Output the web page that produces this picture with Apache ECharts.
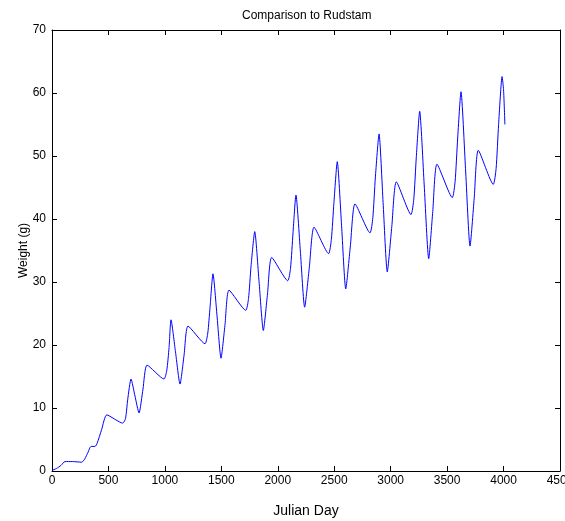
<!DOCTYPE html>
<html>
<head>
<meta charset="utf-8">
<script src="https://cdn.jsdelivr.net/npm/echarts@6/dist/echarts.min.js"></script>
<style>
html,body{margin:0;padding:0;background:#fff;}
#c{width:565px;height:521px;}
</style>
</head>
<body>
<div id="c"></div>
<script>
// Julian day (x) and weight in grams (y)
var days = [0, 40, 80, 115, 180, 263, 290, 320, 345, 381, 400, 440, 485, 626,
  651, 671, 700, 735, 771, 806, 842,
  992, 1017, 1037, 1054, 1094, 1134, 1170, 1205,
  1355, 1380, 1400, 1426, 1462, 1497, 1533, 1568,
  1716, 1741, 1763, 1796, 1834, 1872, 1909, 1946,
  2088, 2113, 2135, 2161, 2200, 2238, 2280, 2321,
  2450, 2475, 2497, 2527, 2565, 2602, 2643, 2684,
  2817, 2842, 2864, 2897, 2933, 2970, 3010, 3050,
  3180, 3205, 3227, 3257, 3297, 3337, 3373, 3410,
  3546, 3571, 3593, 3623, 3663, 3703, 3740, 3776,
  3909, 3934, 3956, 3987, 4000, 4012];
var weights = [0.1, 0.4, 0.9, 1.5, 1.5, 1.4, 1.9, 3.0, 3.9, 3.9, 4.4, 6.6, 8.9, 7.6,
  8.3, 11.4, 14.6, 11.9, 9.2, 13.0, 16.8,
  14.6, 16.0, 19.6, 24.0, 18.9, 13.8, 18.4, 23.0,
  20.2, 21.9, 26.0, 31.3, 24.6, 17.9, 23.3, 28.7,
  25.5, 27.4, 32.5, 38.0, 30.1, 22.3, 28.1, 33.9,
  30.2, 32.2, 37.8, 43.8, 34.9, 26.0, 32.4, 38.7,
  34.5, 36.8, 42.5, 49.1, 39.0, 28.9, 35.7, 42.4,
  37.8, 40.2, 46.5, 53.5, 42.6, 31.6, 38.8, 45.9,
  40.7, 43.2, 49.8, 57.1, 45.4, 33.7, 41.2, 48.7,
  43.4, 46.0, 52.7, 60.2, 48.0, 35.7, 43.3, 50.9,
  45.5, 48.0, 55.0, 62.6, 60.5, 55.0];

var titleText = 'Comparison to Rudstam';
var xName = 'Julian Day';
var yName = 'Weight (g)';

var pts = days.map(function (d, i) { return [d, weights[i]]; });

var font = 'Arial, "Liberation Sans", sans-serif';
var chart = echarts.init(document.getElementById('c'), null, {renderer: 'canvas'});
var lineStyle = {color: '#000', width: 1};
var plain = function (v) { return String(v); };
chart.setOption({
  backgroundColor: '#fff',
  animation: false,
  title: {
    text: titleText, left: 237, top: 5,
    textStyle: {fontSize: 12, fontWeight: 'normal', color: '#000', fontFamily: font}
  },
  grid: {left: 52, right: 5, top: 30, bottom: 50, containLabel: false, outerBoundsMode: 'none'},
  xAxis: [{
    type: 'value', min: 0, max: 4500, interval: 500, position: 'bottom',
    name: xName, nameLocation: 'middle', nameGap: 33, nameMoveOverlap: false,
    nameTextStyle: {fontSize: 14, color: '#000', fontFamily: font},
    axisLine: {show: true, onZero: false, lineStyle: lineStyle},
    axisTick: {show: true, inside: true, length: 5, lineStyle: lineStyle},
    axisLabel: {fontSize: 12, color: '#000', margin: 4, fontFamily: font, formatter: plain, showMaxLabel: true, hideOverlap: false},
    splitLine: {show: false}
  }, {
    type: 'value', min: 0, max: 4500, interval: 500, position: 'top',
    axisLine: {show: true, onZero: false, lineStyle: lineStyle},
    axisTick: {show: true, inside: true, length: 5, lineStyle: lineStyle},
    axisLabel: {show: false},
    splitLine: {show: false}
  }],
  yAxis: [{
    type: 'value', min: 0, max: 70, interval: 10, position: 'left',
    name: yName, nameLocation: 'middle', nameGap: 22, nameMoveOverlap: false,
    nameTextStyle: {fontSize: 12, color: '#000', fontFamily: font},
    axisLine: {show: true, onZero: false, lineStyle: lineStyle},
    axisTick: {show: true, inside: true, length: 5, lineStyle: lineStyle},
    axisLabel: {fontSize: 12, color: '#000', margin: 6, fontFamily: font, formatter: plain},
    splitLine: {show: false}
  }, {
    type: 'value', min: 0, max: 70, interval: 10, position: 'right',
    axisLine: {show: true, onZero: false, lineStyle: lineStyle},
    axisTick: {show: true, inside: true, length: 5, lineStyle: lineStyle},
    axisLabel: {show: false},
    splitLine: {show: false}
  }],
  series: [{
    type: 'line', xAxisIndex: 0, yAxisIndex: 0,
    data: pts, showSymbol: false, symbol: 'none',
    smooth: 0.2,
    lineStyle: {color: '#0000ff', width: 1}
  }]
});
</script>
</body>
</html>
